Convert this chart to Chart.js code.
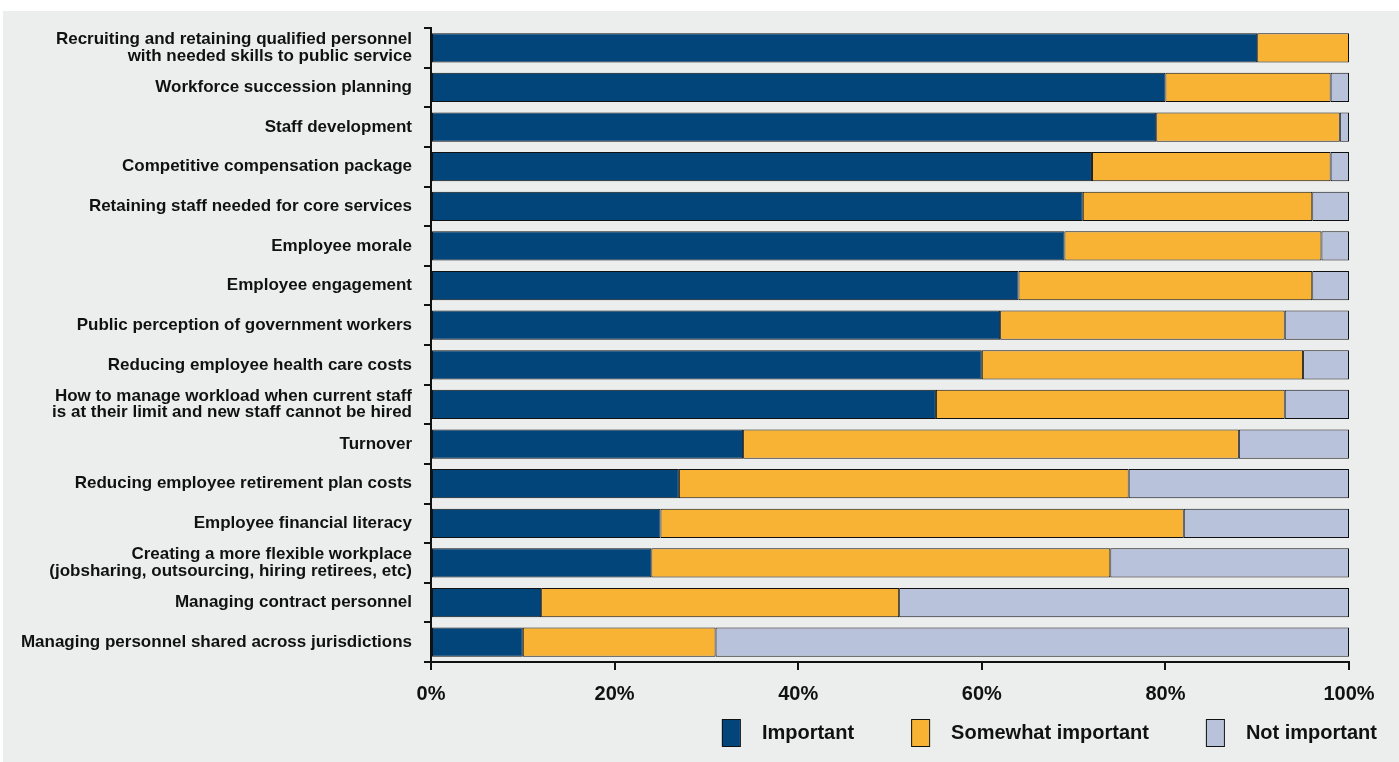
<!DOCTYPE html>
<html>
<head>
<meta charset="utf-8">
<script src="https://cdn.jsdelivr.net/npm/chart.js@4/dist/chart.umd.min.js"></script>
<style>
    body { margin: 0; background: #ffffff; }
    #panel { position: absolute; left: 3px; top: 11px; width: 1396px; height: 751px; background: #eceeed; }
</style>
</head>
<body>
<div id="panel"><canvas id="workforceChart" width="1396" height="751"></canvas></div>
<script>
// Workforce issues survey - stacked horizontal bars
const categories = [
    ['Recruiting and retaining qualified personnel', 'with needed skills to public service'],
    'Workforce succession planning',
    'Staff development',
    'Competitive compensation package',
    'Retaining staff needed for core services',
    'Employee morale',
    'Employee engagement',
    'Public perception of government workers',
    'Reducing employee health care costs',
    ['How to manage workload when current staff', 'is at their limit and new staff cannot be hired'],
    'Turnover',
    'Reducing employee retirement plan costs',
    'Employee financial literacy',
    ['Creating a more flexible workplace', '(jobsharing, outsourcing, hiring retirees, etc)'],
    'Managing contract personnel',
    'Managing personnel shared across jurisdictions'
];

const important = [90, 80, 79, 72, 71, 69, 64, 62, 60, 55, 34, 27, 25, 24, 12, 10];
const somewhatImportant = [10, 18, 20, 26, 25, 28, 32, 31, 35, 38, 54, 49, 57, 50, 39, 21];
const notImportant = [0, 2, 1, 2, 4, 3, 4, 7, 5, 7, 12, 24, 18, 26, 49, 69];

const xTicks = ['0%', '20%', '40%', '60%', '80%', '100%'];

function makeSet(label, data, color) {
    return {
        label: label,
        data: data,
        backgroundColor: color,
        borderColor: '#111',
        borderWidth: 1,
        borderSkipped: false,
        categoryPercentage: 0.74,
        barPercentage: 1.0
    };
}

// simple legend drawn under the axis, right aligned like the original
const bottomLegend = {
    id: 'bottomLegend',
    afterDraw(chart) {
        const c = chart.ctx;
        const sets = chart.data.datasets;
        const boxW = 18, boxH = 27, gapText = 22, gapItem = 57;
        const right = 1374, boxTop = 708;
        c.save();
        c.font = 'bold 20px "Liberation Sans"';
        let total = 0;
        const widths = sets.map(s => c.measureText(s.label).width);
        widths.forEach(w => { total += boxW + gapText + w; });
        total += gapItem * (sets.length - 1);
        let x = right - total;
        sets.forEach((s, i) => {
            c.fillStyle = s.backgroundColor;
            c.fillRect(x, boxTop, boxW, boxH);
            c.strokeStyle = '#111';
            c.lineWidth = 1;
            c.strokeRect(x + 0.5, boxTop + 0.5, boxW, boxH);
            c.fillStyle = '#111';
            c.textBaseline = 'middle';
            c.fillText(s.label, x + boxW + gapText, boxTop + boxH / 2 + 1);
            x += boxW + gapText + widths[i] + gapItem;
        });
        c.restore();
    }
};

const ctx = document.getElementById('workforceChart').getContext('2d');
new Chart(ctx, {
    type: 'bar',
    data: {
        labels: categories,
        datasets: [
            makeSet('Important', important, '#02457a'),
            makeSet('Somewhat important', somewhatImportant, '#f8b334'),
            makeSet('Not important', notImportant, '#b8c2da')
        ]
    },
    plugins: [bottomLegend],
    options: {
        indexAxis: 'y',
        responsive: false,
        animation: false,
        layout: { padding: { top: 17, right: 50, bottom: 40, left: 0 } },
        plugins: {
            tooltip: { enabled: false },
            legend: { display: false }
        },
        scales: {
            x: {
                stacked: true,
                min: 0,
                max: 100,
                afterFit: scale => { scale.height = 60; },
                border: { color: '#111', width: 2 },
                grid: { drawOnChartArea: false, color: '#111', lineWidth: 2, tickLength: 8 },
                ticks: {
                    stepSize: 20,
                    color: '#111',
                    font: { family: 'Liberation Sans', weight: 'bold', size: 20 },
                    padding: 12,
                    maxRotation: 0,
                    callback: (v, i) => xTicks[i]
                }
            },
            y: {
                stacked: true,
                afterFit: scale => {
                    scale.width = 428;
                    scale.paddingTop = 0;
                    scale.paddingBottom = 0;
                },
                border: { color: '#111', width: 2 },
                grid: { drawOnChartArea: false, offset: true, color: '#111', lineWidth: 2, tickLength: 7 },
                ticks: {
                    autoSkip: false,
                    color: '#111',
                    font: { family: 'Liberation Sans', weight: 'bold', size: 17, lineHeight: 0.98 },
                    padding: 12
                }
            }
        }
    }
});
</script>
</body>
</html>
